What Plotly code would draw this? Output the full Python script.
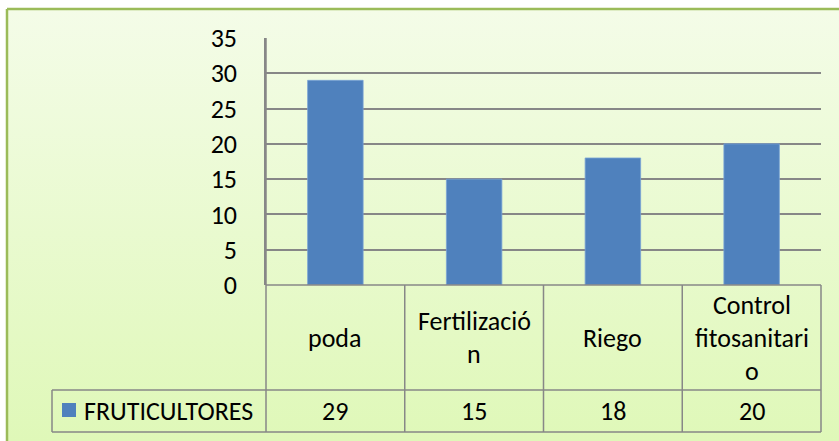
import base64
import plotly.graph_objects as go

# ---- data ----
categories = ["poda", "Fertilización", "Riego", "Control fitosanitario"]
header_labels = [["poda"], ["Fertilizació", "n"], ["Riego"], ["Control", "fitosanitari", "o"]]
series_name = "FRUTICULTORES"
fruticultores = [29, 15, 18, 20]
y_ticks = [0, 5, 10, 15, 20, 25, 30, 35]

# ---- canvas geometry (pixels) ----
W, H = 839, 441
PLOT_L, PLOT_R = 266, 821
PLOT_T, PLOT_B = 38, 285
HEAD_B = 390          # bottom of the category header row
ROW_B = 432           # bottom of the value row
KEY_L = 52            # left edge of the legend-key cell

BAR_COLOR = "#4f81bd"
GRID = "#878787"
FONT = "Carlito, Lato, sans-serif"
TEXT = "#000000"
FS = 26


def fx(px):
    return px / W


def fy(py):
    return 1 - py / H


n = len(categories)
col_w = (PLOT_R - PLOT_L) / n
col_edges = [PLOT_L + i * col_w for i in range(n + 1)]

fig = go.Figure()
fig.add_trace(go.Bar(
    x=list(range(n)),
    y=fruticultores,
    name=series_name,
    marker=dict(color=BAR_COLOR, line=dict(width=0.8, color="#7aa3d6")),
    width=0.4,
    showlegend=False,
))

# soft green background panel drawn as an svg gradient
svg = (
    '<svg xmlns="http://www.w3.org/2000/svg" width="832" height="432" preserveAspectRatio="none">'
    '<defs><linearGradient id="g" x1="0" y1="0" x2="0" y2="1">'
    '<stop offset="0" stop-color="#f4fce8"/>'
    '<stop offset="1" stop-color="#dff8b8"/>'
    '</linearGradient></defs>'
    '<rect width="832" height="432" fill="url(#g)"/></svg>'
)
bg_src = "data:image/svg+xml;base64," + base64.b64encode(svg.encode()).decode()

shapes = []
line = dict(color=GRID, width=1.5)
# table: horizontal rules
shapes.append(dict(type="line", xref="paper", yref="paper", x0=fx(PLOT_L), x1=fx(PLOT_R),
                   y0=fy(PLOT_B), y1=fy(PLOT_B), line=line))
for yy in (HEAD_B, ROW_B):
    shapes.append(dict(type="line", xref="paper", yref="paper", x0=fx(KEY_L), x1=fx(PLOT_R),
                       y0=fy(yy), y1=fy(yy), line=line))
# table: column rules
for i, xe in enumerate(col_edges):
    top = PLOT_T if i == 0 else PLOT_B
    shapes.append(dict(type="line", xref="paper", yref="paper", x0=fx(xe), x1=fx(xe),
                       y0=fy(top), y1=fy(ROW_B), line=line))
shapes.append(dict(type="line", xref="paper", yref="paper", x0=fx(KEY_L), x1=fx(KEY_L),
                   y0=fy(HEAD_B), y1=fy(ROW_B), line=line))
# legend key square
shapes.append(dict(type="rect", xref="paper", yref="paper", x0=fx(62), x1=fx(76),
                   y0=fy(417), y1=fy(403), fillcolor=BAR_COLOR, line=dict(width=0)))
# outer frame (top and left edges)
frame = dict(color="#9bbb59", width=2.5)
shapes.append(dict(type="line", xref="paper", yref="paper", x0=fx(7), x1=1,
                   y0=fy(9), y1=fy(9), line=frame))
shapes.append(dict(type="line", xref="paper", yref="paper", x0=fx(7), x1=fx(7),
                   y0=fy(9), y1=0, line=frame))

annotations = []
head_mid = (PLOT_B + HEAD_B) / 2
row_mid = (HEAD_B + ROW_B) / 2
line_gap = 33
for i, lines in enumerate(header_labels):
    k = len(lines)
    for j, txt in enumerate(lines):
        yy = head_mid + (j - (k - 1) / 2) * line_gap
        annotations.append(dict(x=i, xref="x", y=fy(yy), yref="paper", text=txt,
                                showarrow=False, xanchor="center", yanchor="middle",
                                font=dict(family=FONT, size=FS, color=TEXT)))
for i, v in enumerate(fruticultores):
    annotations.append(dict(x=i, xref="x", y=fy(row_mid), yref="paper", text=str(v),
                            showarrow=False, xanchor="center", yanchor="middle",
                            font=dict(family=FONT, size=FS, color=TEXT)))
annotations.append(dict(x=fx(82), xref="paper", y=fy(row_mid), yref="paper", text=series_name,
                        showarrow=False, xanchor="left", yanchor="middle",
                        font=dict(family=FONT, size=FS, color=TEXT)))

fig.update_layout(
    width=W, height=H,
    autosize=False,
    margin=dict(l=0, r=0, t=0, b=0, pad=0, autoexpand=False),
    paper_bgcolor="#ffffff",
    plot_bgcolor="#ffffff",
    images=[dict(source=bg_src, xref="paper", yref="paper", x=fx(7), y=fy(9),
                 sizex=1 - fx(7), sizey=fy(9), xanchor="left", yanchor="top",
                 sizing="stretch", layer="below")],
    xaxis=dict(domain=[fx(PLOT_L), fx(PLOT_R)], range=[-0.5, n - 0.5],
               showticklabels=False, showgrid=False, zeroline=False, showline=False,
               automargin=False, fixedrange=True),
    yaxis=dict(domain=[fy(PLOT_B), fy(PLOT_T)], range=[0, 35], tickvals=y_ticks,
               showgrid=True, gridcolor=GRID, gridwidth=1.5, zeroline=False,
               showline=True, linecolor=GRID, linewidth=1.5, ticks="",
               ticklabelstandoff=22, automargin=False,
               tickfont=dict(family=FONT, size=FS, color=TEXT), fixedrange=True),
    shapes=shapes,
    annotations=annotations,
    bargap=0.6,
)

fig.write_html("out.html", config=dict(displayModeBar=False))
